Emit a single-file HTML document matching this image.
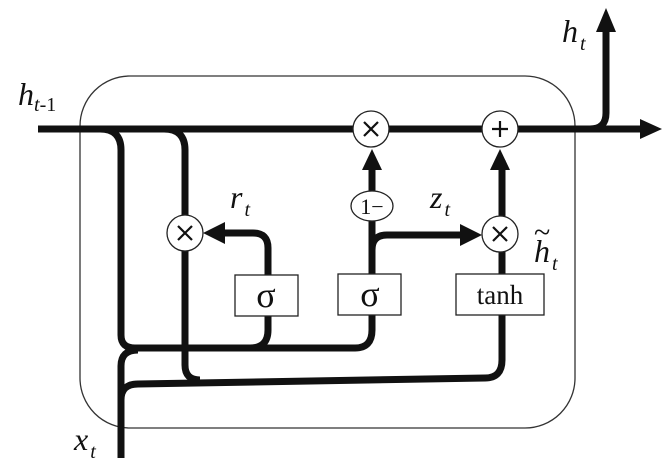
<!DOCTYPE html>
<html><head><style>body{margin:0;background:#fff}svg{display:block}</style></head><body>
<svg width="672" height="473" viewBox="0 0 672 473" xmlns="http://www.w3.org/2000/svg" font-family="Liberation Serif, serif">
<rect x="80" y="76" width="495" height="352" rx="50" fill="none" stroke="#333" stroke-width="1.3"/>
<g fill="none" stroke="#111" stroke-width="7">
<path d="M38 129 H645"/>
<path d="M590 129 Q606 129 606 113 V30"/>
<path d="M100 129 Q121 129 121 150 V335 Q121 348 135 348 H355 Q372 348 372 330 V160"/>
<path d="M250 348 Q268 348 268 330 V248 Q268 233 253 233 H215"/>
<path d="M164 129 Q185 129 185 150 V365 Q185 380 200 380"/>
<path d="M121 458 V366 Q121 350 138 350"/>
<path d="M121 400 Q121 384 138 384 L485 378 Q502 378 502 360 V160"/>
<path d="M372 250 Q372 235 387 235 H470"/>
</g>
<g fill="#111">
<polygon points="606,8 596,32 616,32"/>
<polygon points="662,129 640,119 640,139"/>
<polygon points="203,233 225,222 225,244"/>
<polygon points="482,235 460,224 460,246"/>
<polygon points="372,149 362,170 382,170"/>
<polygon points="500,149 490,170 510,170"/>
</g>
<g fill="#fff" stroke="#222" stroke-width="1.3">
<circle cx="371" cy="129" r="18"/><circle cx="500" cy="129" r="18"/>
<circle cx="185" cy="233" r="18"/><circle cx="500" cy="234" r="18"/>
<ellipse cx="372" cy="206" rx="21" ry="15"/>
<rect x="235" y="275" width="63" height="41"/><rect x="338" y="274" width="63" height="41"/><rect x="456" y="274" width="88" height="41"/>
</g>
<g stroke="#111" stroke-width="2.2" fill="none">
<path d="M364 122 L378 136 M378 122 L364 136"/>
<path d="M178 226 L192 240 M192 226 L178 240"/>
<path d="M493 227 L507 241 M507 227 L493 241"/>
<path d="M500 121 V137 M492 129 H508"/>
</g>
<g fill="#111" font-size="36" text-anchor="middle">
<text x="266" y="307">σ</text><text x="370" y="306">σ</text><text x="500" y="304" font-size="27">tanh</text>
<text x="372" y="214" font-size="22">1−</text>
</g>
<g fill="#111" font-style="italic" font-size="32">
<text x="18" y="105">h<tspan font-size="20" dy="6">t</tspan><tspan font-size="20" font-style="normal">-1</tspan></text>
<text x="230" y="208">r<tspan font-size="20" dx="2" dy="8">t</tspan></text>
<text x="430" y="208">z<tspan font-size="20" dx="2" dy="8">t</tspan></text>
<text x="534" y="262">h<tspan font-size="20" dx="2" dy="8">t</tspan></text>
<text x="534" y="242" font-size="30" font-style="normal">~</text>
<text x="562" y="42">h<tspan font-size="20" dx="2" dy="8">t</tspan></text>
<text x="74" y="450">x<tspan font-size="20" dx="2" dy="8">t</tspan></text>
</g>
</svg>
</body></html>
